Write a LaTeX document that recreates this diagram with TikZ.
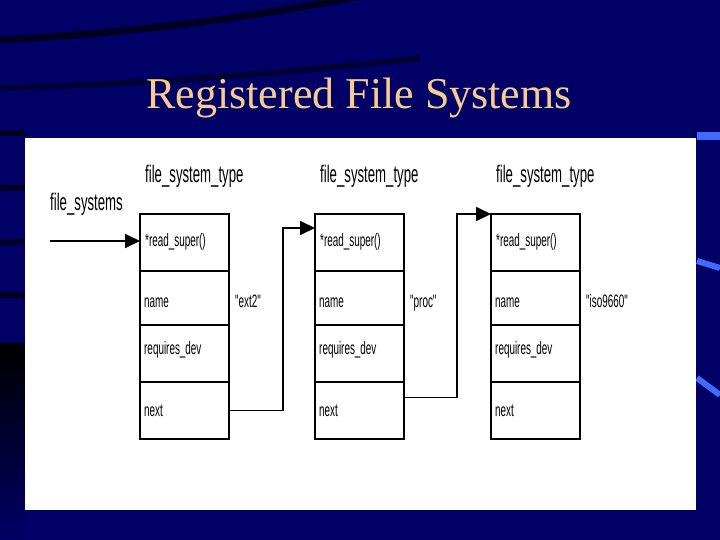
\documentclass[tikz,border=0pt]{standalone}
\usepackage{fontspec}
\setmainfont{Liberation Serif}
\newfontfamily\narrowsf[FakeStretch=0.55]{Liberation Sans}
\usetikzlibrary{arrows.meta, positioning, calc}
\definecolor{slidenavy}{HTML}{000066}
\definecolor{stripedark}{HTML}{000022}
\definecolor{streakblue}{HTML}{3F6BFF}
\definecolor{titlegold}{HTML}{F8CC8C}

\begin{document}
\begin{tikzpicture}[x=1pt, y=-1pt,
  fsrow/.style={rectangle, draw=black, line width=1.8pt, fill=white,
    minimum width=89pt, anchor=north west, inner sep=0pt, outer sep=0pt},
  fstxt/.style={anchor=base west, inner sep=0pt,
    font=\narrowsf\fontsize{18}{18}\selectfont},
  fshead/.style={anchor=base west, inner sep=0pt,
    font=\narrowsf\fontsize{24}{24}\selectfont},
  ar/.style={-{Triangle[length=15pt, width=14pt]}, line width=1.8pt}
]
  \useasboundingbox (0,0) rectangle (720,540);
  % slide background
  \fill[slidenavy] (0,0) rectangle (720,540);
  \draw[stripedark, line width=7pt] (0,40) .. controls (150,32) and (270,14) .. (360,-4);
  \draw[stripedark, line width=6pt, opacity=0.7] (0,88) .. controls (150,84) and (300,72) .. (420,58);
  \foreach \yy in {133,188,242,295}
    \fill[stripedark] (0,\yy-3) rectangle (25,\yy+3);
  \shade[top color=black, bottom color=slidenavy] (0,343) rectangle (25,540);
  \fill[streakblue] (697,132) rectangle (720,140);
  \draw[streakblue, line width=6pt] (697,261) -- (720,268);
  \draw[streakblue, line width=6pt] (697,378) -- (720,395);
  \fill[white] (25,138) rectangle (696,510);

  \node[font=\fontsize{44}{44}\selectfont, text=titlegold, anchor=base] (title)
    at (359,109) {Registered File Systems};

  % the three file_system_type records
  \foreach \bx/\nm [count=\i] in {140/ext2, 315/proc, 491/iso9660}{
    \node[fsrow, minimum height=57pt] (b\i r1) at (\bx,214) {};
    \node[fsrow, minimum height=54pt] (b\i r2) at (b\i r1.south west) {};
    \node[fsrow, minimum height=57pt] (b\i r3) at (b\i r2.south west) {};
    \node[fsrow, minimum height=57pt] (b\i r4) at (b\i r3.south west) {};
    \node[fshead] (h\i) at ($(b\i r1.north west)+(5,-31)$) {file\_system\_type};
    \node[fstxt] (t\i a) at ($(b\i r1.north west)+(5,33)$) {*read\_super()};
    \node[fstxt] (t\i b) at ($(b\i r2.north west)+(4,36)$) {name};
    \node[fstxt] (t\i c) at ($(b\i r3.north west)+(4,29)$) {requires\_dev};
    \node[fstxt] (t\i d) at ($(b\i r4.north west)+(4,34)$) {next};
    \node[fstxt] (v\i) at ($(b\i r2.north east)+(6,36)$) {"\nm"};
  }

  \node[fshead] (fslist) at (50,211) {file\_systems};
  \coordinate (fsin) at (50,241);
  \draw[ar] (fsin) -- (fsin -| b1r1.west);
  \draw[ar] (b1r4.east) -- ++(54,0) |- ($(b2r1.north west)+(0,14)$);
  \draw[ar] ($(b2r4.east)+(0,-13)$) -- ++(53,0) |- (b3r1.north west);
\end{tikzpicture}
\end{document}
